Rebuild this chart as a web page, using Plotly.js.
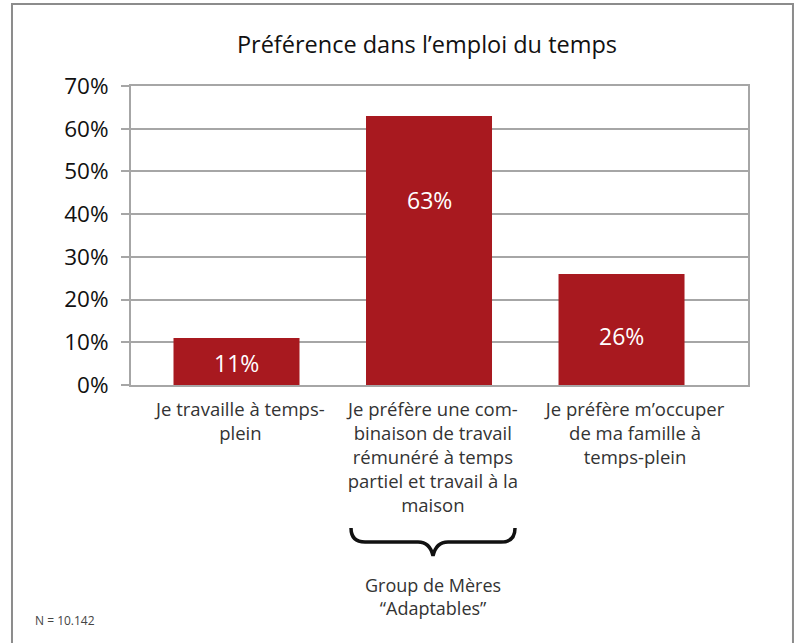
<!DOCTYPE html>
<html>
<head>
<meta charset="utf-8">
<script src="https://cdn.plot.ly/plotly-3.0.1.min.js"></script>
<style>
  html, body { margin: 0; padding: 0; background: #fff; }
  #chart { width: 803px; height: 643px; }
</style>
</head>
<body>
<div id="chart"></div>
<script>
var categories = [
  'Je travaille à temps-<br>plein',
  'Je préfère une com-<br>binaison de travail<br>rémunéré à temps<br>partiel et travail à la<br>maison',
  'Je préfère m’occuper<br>de ma famille à<br>temps-plein'
];
var positions = [0, 1, 2];
var values = [11, 63, 26];
var valueLabels = ['11%', '63%', '26%'];
var labelHeights = [5.2, 43.3, 11.5];
var tickOffsets = [0.02, 0.02, 0.07];
var yTicks = [0, 10, 20, 30, 40, 50, 60, 70];

var FONT = 'Open Sans, sans-serif';

// pixel -> paper helpers for the decorations (plot area 131..748 x, 86..385 y)
function px(x) { return ((x - 131) / 617).toFixed(4); }
function py(y) { return ((385 - y) / 299).toFixed(4); }
function pt(x, y) { return px(x) + ',' + py(y); }

var bracePath = 'M' + pt(351, 528) +
  ' Q' + pt(351, 542) + ' ' + pt(365, 542) +
  ' L' + pt(418, 542) +
  ' Q' + pt(430, 542) + ' ' + pt(433, 556) +
  ' Q' + pt(436, 542) + ' ' + pt(448, 542) +
  ' L' + pt(501, 542) +
  ' Q' + pt(515, 542) + ' ' + pt(515, 528);

var trace = {
  x: positions,
  y: values,
  type: 'bar',
  width: 0.6545,
  marker: { color: '#A8191F' },
  hoverinfo: 'skip'
};

var annotations = positions.map(function (p, i) {
  return {
    x: p, y: labelHeights[i], xref: 'x', yref: 'y',
    text: valueLabels[i], showarrow: false,
    font: { family: FONT, size: 23, color: '#ffffff' }
  };
});

annotations.push({
  x: px(433), y: py(596), xref: 'paper', yref: 'paper',
  xanchor: 'center', yanchor: 'middle',
  text: 'Group de Mères<br>“Adaptables”', showarrow: false,
  font: { family: FONT, size: 18, color: '#333333' }
});
annotations.push({
  x: px(33), y: py(620), xref: 'paper', yref: 'paper',
  xanchor: 'left', yanchor: 'middle',
  text: 'N = 10.142', showarrow: false,
  font: { family: FONT, size: 12, color: '#444444' }
});

var layout = {
  width: 803,
  height: 643,
  margin: { l: 131, r: 55, t: 86, b: 258 },
  paper_bgcolor: '#ffffff',
  plot_bgcolor: '#ffffff',
  showlegend: false,
  title: {
    text: 'Préférence dans l’emploi du temps',
    x: 427 / 803, xanchor: 'center',
    y: 1 - 45 / 643, yanchor: 'middle',
    font: { family: FONT, size: 23.5, color: '#111111' }
  },
  xaxis: {
    range: [-0.548, 2.657],
    tickvals: positions.map(function (p, i) { return p + tickOffsets[i]; }),
    ticktext: categories,
    ticks: '',
    showgrid: false,
    zeroline: false,
    showline: true, mirror: true, linecolor: '#a6a6a6', linewidth: 2,
    ticklabelstandoff: 7,
    tickfont: { family: FONT, size: 18.5, color: '#333333' }
  },
  yaxis: {
    range: [0, 70],
    tickvals: yTicks,
    ticktext: yTicks.map(function (v) { return v + '%'; }),
    ticks: 'outside', ticklen: 8, tickcolor: '#a6a6a6', tickwidth: 2,
    showgrid: true, gridcolor: '#a6a6a6', gridwidth: 2,
    zeroline: false,
    showline: true, mirror: true, linecolor: '#a6a6a6', linewidth: 2,
    ticklabelstandoff: 8,
    tickfont: { family: FONT, size: 22.5, color: '#111111' }
  },
  shapes: [
    {
      type: 'rect', xref: 'paper', yref: 'paper',
      x0: px(12), x1: px(793), y0: py(660), y1: py(4),
      line: { color: '#8c8c8c', width: 2 }
    },
    {
      type: 'path', xref: 'paper', yref: 'paper', path: bracePath,
      line: { color: '#111111', width: 3.5 }
    }
  ],
  annotations: annotations
};

Plotly.newPlot('chart', [trace], layout, { displayModeBar: false, staticPlot: true });
</script>
</body>
</html>
